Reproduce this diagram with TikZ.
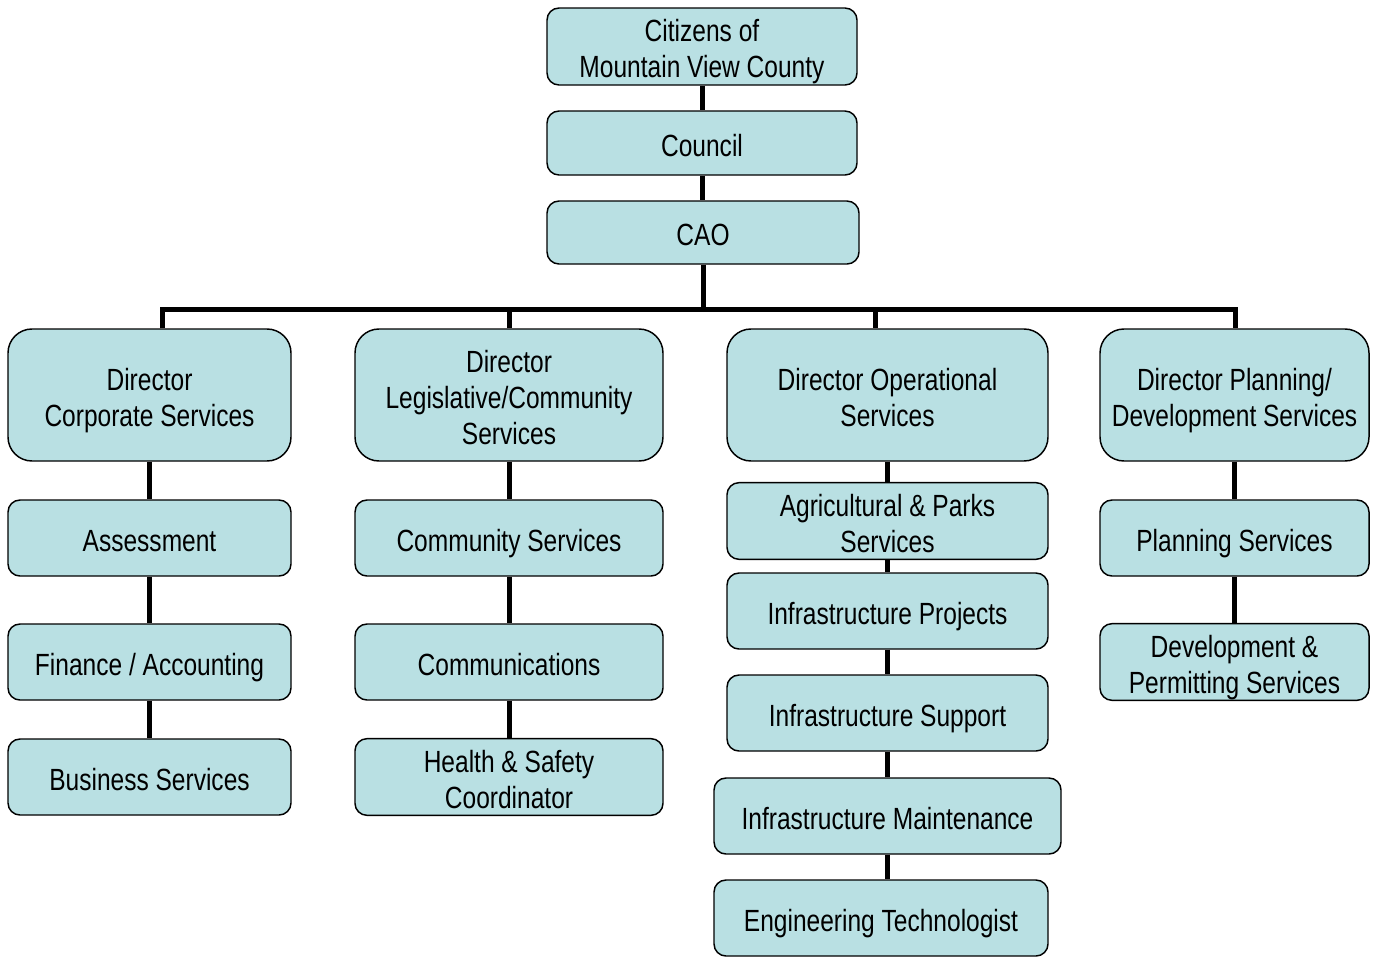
\documentclass[tikz,border=0pt]{standalone}
\usepackage{fontspec}
\setmainfont{Liberation Sans}[FakeStretch=0.8]
\definecolor{boxfill}{RGB}{185,224,227}
\tikzset{
  unit/.style={draw=black, line width=1.1pt, fill=boxfill, rounded corners=9pt,
    inner sep=0pt, align=center, minimum height=57pt, font=\fontsize{23}{27}\selectfont,
    text height=25pt, execute at end node={\rule[-5.5pt]{0pt}{5.5pt}}},
  twolines/.style={text height=52pt},
  threelines/.style={text height=79pt},
  director/.style={unit, rounded corners=18pt, minimum height=99pt},
  link/.style={line width=3.75pt, line join=miter},
}

\begin{document}
\begin{tikzpicture}[x=0.75pt,y=-0.75pt]
  \useasboundingbox (0,0) rectangle (1374,957);

  % top of the chart
  \node[unit, twolines, minimum width=232.5pt, minimum height=57.75pt] (citizens) at (702,46.5) {Citizens of\\Mountain View County};
  \node[unit, minimum width=232.5pt, minimum height=48pt] (council) at (702,143) {Council};
  \node[unit, minimum width=234pt, minimum height=47.25pt] (cao) at (703,232.5) {CAO};

  % directors
  \node[director, twolines, minimum width=212.25pt] (dcorp) at (149.5,395) {Director\\Corporate Services};
  \node[director, threelines, minimum width=231pt] (dleg) at (509,395) {Director\\Legislative/Community\\Services};
  \node[director, twolines, minimum width=240.75pt] (dops) at (887.5,395) {Director Operational\\Services};
  \node[director, twolines, minimum width=201.75pt] (dplan) at (1234.5,395) {Director Planning/\\Development Services};

  % corporate
  \node[unit, minimum width=212.25pt] (assess) at (149.5,538) {Assessment};
  \node[unit, minimum width=212.25pt] (finance) at (149.5,662) {Finance / Accounting};
  \node[unit, minimum width=212.25pt] (business) at (149.5,777) {Business Services};

  % legislative/community
  \node[unit, minimum width=231pt] (commserv) at (509,538) {Community Services};
  \node[unit, minimum width=231pt] (comms) at (509,662) {Communications};
  \node[unit, twolines, minimum width=231pt] (health) at (509,777) {Health \& Safety\\Coordinator};

  % operational
  \node[unit, twolines, minimum width=240.75pt] (agri) at (887.5,521) {Agricultural \& Parks\\Services};
  \node[unit, minimum width=240.75pt] (infproj) at (887.5,611) {Infrastructure Projects};
  \node[unit, minimum width=240.75pt] (infsup) at (887.5,713) {Infrastructure Support};
  \node[unit, minimum width=260.25pt] (infmaint) at (887.5,816) {Infrastructure Maintenance};
  \node[unit, minimum width=250.5pt] (eng) at (881,918) {Engineering Technologist};

  % planning/development
  \node[unit, minimum width=201.75pt] (planning) at (1234.5,538) {Planning Services};
  \node[unit, twolines, minimum width=201.75pt] (devperm) at (1234.5,662) {Development \&\\Permitting Services};

  \coordinate (bus) at (702,309);
  \coordinate (busL) at (162,309);
  \coordinate (busR) at (1235,309);
  \coordinate (busO) at (875,309);

  \draw[link] (citizens.south) -- (council.north);
  \draw[link] (council.south) -- (council.south |- cao.north);
  \draw[link] (cao.south) -- (cao.south |- bus);
  \draw[link] (busL |- dcorp.north) -- (busL) -- (busR) -- (busR |- dplan.north);
  \draw[link] (dleg.north) -- (dleg.north |- bus);
  \draw[link] (busO) -- (busO |- dops.north);

  \draw[link] (dcorp.south) -- (assess.north);
  \draw[link] (assess.south) -- (finance.north);
  \draw[link] (finance.south) -- (business.north);

  \draw[link] (dleg.south) -- (commserv.north);
  \draw[link] (commserv.south) -- (comms.north);
  \draw[link] (comms.south) -- (health.north);

  \draw[link] (dops.south) -- (agri.north);
  \draw[link] (agri.south) -- (infproj.north);
  \draw[link] (infproj.south) -- (infsup.north);
  \draw[link] (infsup.south) -- (infmaint.north);
  \draw[link] (infmaint.south) -- (infmaint.south |- eng.north);

  \draw[link] (dplan.south) -- (planning.north);
  \draw[link] (planning.south) -- (devperm.north);
\end{tikzpicture}
\end{document}
